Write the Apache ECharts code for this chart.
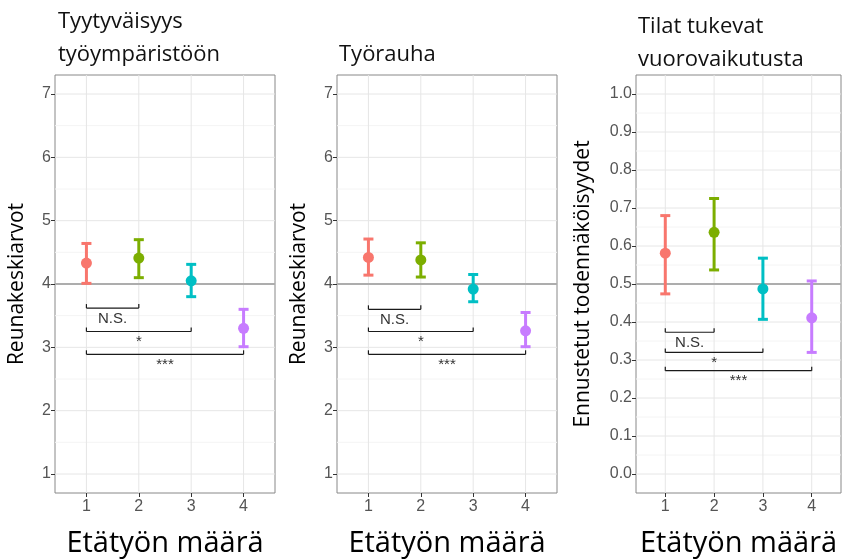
<!DOCTYPE html>
<html>
<head>
<meta charset="utf-8">
<script src="https://cdn.jsdelivr.net/npm/echarts@6/dist/echarts.min.js"></script>
<style>
  html, body { margin: 0; background: #fff; }
  #chart { width: 842px; height: 559px; }
</style>
</head>
<body>
<div id="chart"></div>
<script>
// etätyön määrä, groups 1-4
var groups = [1, 2, 3, 4]
var groupColors = ['#F8766D', '#7CAE00', '#00BFC4', '#C77CFF']

var panelTitles = ['Tyytyväisyys\ntyöympäristöön', 'Työrauha', 'Tilat tukevat\nvuorovaikutusta']
var yTitles = ['Reunakeskiarvot', 'Reunakeskiarvot', 'Ennustetut todennäköisyydet']
var xTitle = 'Etätyön määrä'

// Tyytyväisyys työympäristöön
var satMean = [4.33, 4.41, 4.05, 3.30]
var satLow = [4.01, 4.10, 3.80, 3.01]
var satHigh = [4.64, 4.70, 4.31, 3.60]

// Työrauha
var peaceMean = [4.42, 4.38, 3.92, 3.26]
var peaceLow = [4.14, 4.11, 3.72, 3.01]
var peaceHigh = [4.71, 4.65, 4.15, 3.55]

// Tilat tukevat vuorovaikutusta
var spaceMean = [0.581, 0.636, 0.487, 0.411]
var spaceLow = [0.474, 0.537, 0.407, 0.320]
var spaceHigh = [0.680, 0.725, 0.568, 0.508]

// axis ticks
var ticks7 = [1, 2, 3, 4, 5, 6, 7]
var minor7 = [1.5, 2.5, 3.5, 4.5, 5.5, 6.5]
var ticksP = [0, 0.1, 0.2, 0.3, 0.4, 0.5, 0.6, 0.7, 0.8, 0.9, 1.0]
var minorP = [0.05, 0.15, 0.25, 0.35, 0.45, 0.55, 0.65, 0.75, 0.85, 0.95]
var refLines = [4, 4, 0.5]

// pairwise comparisons against group 1
var sigLabels = ['N.S.', '*', '***']
var sigFrom = [1, 1, 1]
var sigTo = [2, 3, 4]
var sigYSat = [3.62, 3.25, 2.89]
var sigYPeace = [3.60, 3.25, 2.89]
var sigYSpace = [0.373, 0.320, 0.272]

var panels = [
  { mean: satMean, low: satLow, high: satHigh, ticks: ticks7, minor: minor7, min: 0.7, max: 7.3, sigY: sigYSat,
    left: 55, width: 220, titleLeft: 58, titleTop: 5, nameGap: 27, digits: 0 },
  { mean: peaceMean, low: peaceLow, high: peaceHigh, ticks: ticks7, minor: minor7, min: 0.7, max: 7.3, sigY: sigYPeace,
    left: 337, width: 220, titleLeft: 339, titleTop: 38, nameGap: 27, digits: 0 },
  { mean: spaceMean, low: spaceLow, high: spaceHigh, ticks: ticksP, minor: minorP, min: -0.05, max: 1.05, sigY: sigYSpace,
    left: 636, width: 205, titleLeft: 638, titleTop: 10, nameGap: 42, digits: 1 }
]

var tickFont = 'Liberation Sans, Arial, sans-serif'
var textFont = 'Open Sans, Noto Sans, sans-serif'

function gridLines(i, p, values, horizontal, color, width, z) {
  var midY = (p.min + p.max) / 2
  return {
    type: 'custom',
    xAxisIndex: i,
    yAxisIndex: i,
    silent: true,
    z: z,
    data: values.map(function (v) { return horizontal ? [2.5, v] : [v, midY] }),
    renderItem: function (params, api) {
      var cs = params.coordSys
      var pt = api.coord([api.value(0), api.value(1)])
      var shape = horizontal
        ? { x1: cs.x, y1: pt[1], x2: cs.x + cs.width, y2: pt[1] }
        : { x1: pt[0], y1: cs.y, x2: pt[0], y2: cs.y + cs.height }
      return { type: 'line', shape: shape, style: { stroke: color, lineWidth: width } }
    }
  }
}

function errorBars(i, p) {
  return {
    type: 'custom',
    xAxisIndex: i,
    yAxisIndex: i,
    z: 4,
    data: groups.map(function (g, k) {
      return { value: [g, p.low[k], p.high[k]], itemStyle: { color: groupColors[k] } }
    }),
    renderItem: function (params, api) {
      var lo = api.coord([api.value(0), api.value(1)])
      var hi = api.coord([api.value(0), api.value(2)])
      var style = { stroke: api.visual('color'), lineWidth: 3 }
      var cap = 5
      return {
        type: 'group',
        children: [
          { type: 'line', shape: { x1: lo[0], y1: lo[1], x2: hi[0], y2: hi[1] }, style: style },
          { type: 'line', shape: { x1: lo[0] - cap, y1: lo[1], x2: lo[0] + cap, y2: lo[1] }, style: style },
          { type: 'line', shape: { x1: hi[0] - cap, y1: hi[1], x2: hi[0] + cap, y2: hi[1] }, style: style }
        ]
      }
    }
  }
}

function brackets(i, p) {
  return {
    type: 'custom',
    xAxisIndex: i,
    yAxisIndex: i,
    z: 5,
    silent: true,
    data: sigLabels.map(function (s, k) { return [sigFrom[k], sigTo[k], p.sigY[k]] }),
    renderItem: function (params, api) {
      var a = api.coord([api.value(0), api.value(2)])
      var b = api.coord([api.value(1), api.value(2)])
      var style = { stroke: '#1a1a1a', lineWidth: 1.2 }
      return {
        type: 'group',
        children: [
          { type: 'line', shape: { x1: a[0], y1: a[1], x2: b[0], y2: b[1] }, style: style },
          { type: 'line', shape: { x1: a[0], y1: a[1], x2: a[0], y2: a[1] - 4 }, style: style },
          { type: 'line', shape: { x1: b[0], y1: b[1], x2: b[0], y2: b[1] - 4 }, style: style },
          { type: 'text', style: {
              text: sigLabels[params.dataIndex], x: (a[0] + b[0]) / 2, y: a[1] + 3,
              align: 'center', verticalAlign: 'top', fill: '#333',
              font: '15px ' + tickFont } }
        ]
      }
    }
  }
}

var option = {
  animation: false,
  backgroundColor: '#fff',
  title: [],
  grid: [],
  xAxis: [],
  yAxis: [],
  series: []
}

panels.forEach(function (p, i) {
  option.title.push({
    text: panelTitles[i], left: p.titleLeft, top: p.titleTop, padding: 0,
    textStyle: { fontFamily: textFont, fontSize: 22, fontWeight: 'normal', color: '#111', lineHeight: 33 }
  })
  option.grid.push({
    left: p.left, top: 75, width: p.width, height: 418,
    show: true, borderColor: '#888', borderWidth: 1, backgroundColor: '#fff',
    containLabel: false, outerBoundsMode: 'none'
  })
  option.xAxis.push({
    type: 'value', gridIndex: i, min: 0.4, max: 4.6, position: 'bottom',
    axisLine: { show: false, onZero: false },
    axisTick: { show: true, length: 4, customValues: groups, lineStyle: { color: '#333' } },
    axisLabel: { customValues: groups, fontSize: 16, fontFamily: tickFont, color: '#555', margin: 6 },
    splitLine: { show: false },
    name: xTitle, nameLocation: 'middle', nameGap: 36,
    nameTextStyle: { fontFamily: textFont, fontSize: 29, color: '#000' }
  })
  option.yAxis.push({
    type: 'value', gridIndex: i, min: p.min, max: p.max, position: 'left',
    axisLine: { show: false, onZero: false },
    axisTick: { show: true, length: 4, customValues: p.ticks, lineStyle: { color: '#333' } },
    axisLabel: {
      customValues: p.ticks, fontSize: 16, fontFamily: tickFont, color: '#555', margin: 4,
      formatter: function (v) { return v.toFixed(p.digits) }
    },
    splitLine: { show: false },
    name: yTitles[i], nameLocation: 'middle', nameGap: p.nameGap,
    nameTextStyle: { fontFamily: textFont, fontSize: 21, color: '#000' }
  })
  option.series.push(gridLines(i, p, p.minor, true, '#f4f4f4', 1, 1))
  option.series.push(gridLines(i, p, p.ticks, true, '#e6e6e6', 1, 1))
  option.series.push(gridLines(i, p, groups, false, '#e6e6e6', 1, 1))
  option.series.push(gridLines(i, p, [refLines[i]], true, '#adadad', 1.8, 2))
  option.series.push(errorBars(i, p))
  option.series.push({
    type: 'scatter', xAxisIndex: i, yAxisIndex: i, z: 6, symbolSize: 11,
    data: groups.map(function (g, k) {
      return { value: [g, p.mean[k]], itemStyle: { color: groupColors[k], opacity: 1 } }
    })
  })
  option.series.push(brackets(i, p))
})

var chart = echarts.init(document.getElementById('chart'))
chart.setOption(option)
</script>
</body>
</html>
